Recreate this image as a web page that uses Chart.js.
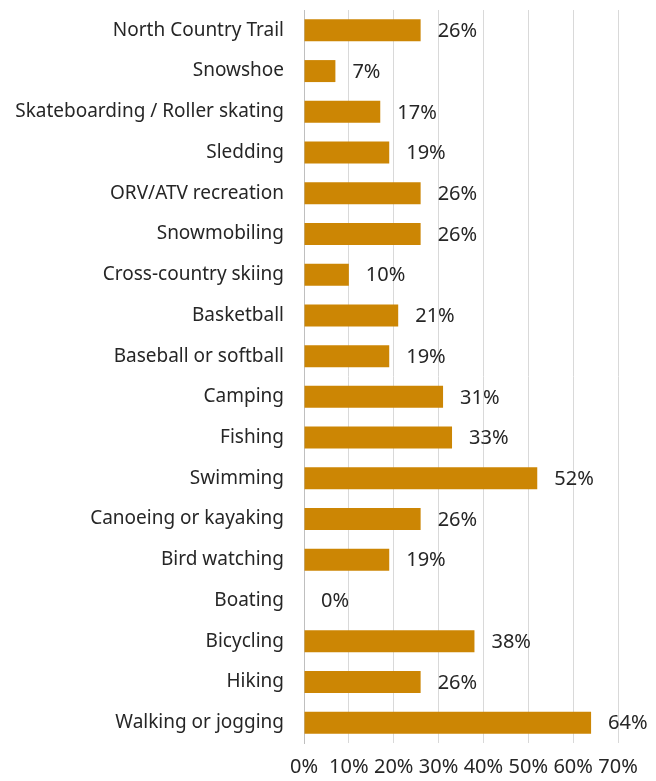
<!DOCTYPE html>
<html>
<head>
<meta charset="utf-8">
<script src="https://cdn.jsdelivr.net/npm/chart.js@4"></script>
<style>
  html, body { margin: 0; padding: 0; background: #fff; }
  #wrap { width: 656px; height: 781px; position: relative; }
</style>
</head>
<body>
<div id="wrap"><canvas id="chart"></canvas></div>
<script>
// activity categories, top to bottom
const categories = [
    'North Country Trail', 'Snowshoe', 'Skateboarding / Roller skating', 'Sledding',
    'ORV/ATV recreation', 'Snowmobiling', 'Cross-country skiing', 'Basketball',
    'Baseball or softball', 'Camping', 'Fishing', 'Swimming', 'Canoeing or kayaking',
    'Bird watching', 'Boating', 'Bicycling', 'Hiking', 'Walking or jogging'
];
// percent of respondents
const percents = [26, 7, 17, 19, 26, 26, 10, 21, 19, 31, 33, 52, 26, 19, 0, 38, 26, 64];
const tickValues = [0, 10, 20, 30, 40, 50, 60, 70];

const barColor = '#CC8604';
const textColor = '#262626';
const fontFamily = '"Noto Sans", "Open Sans", sans-serif';

// draw the value label right of each bar
const valueLabels = {
    id: 'valueLabels',
    afterDatasetsDraw(chart) {
        const ctx = chart.ctx;
        const meta = chart.getDatasetMeta(0);
        ctx.save();
        ctx.font = '20px ' + fontFamily;
        ctx.fillStyle = textColor;
        ctx.textAlign = 'left';
        ctx.textBaseline = 'middle';
        meta.data.forEach((bar, i) => {
            ctx.fillText(percents[i] + '%', bar.x + 17, bar.y + 1);
        });
        ctx.restore();
    }
};

new Chart(document.getElementById('chart'), {
    type: 'bar',
    data: {
        labels: categories,
        datasets: [{
            data: percents,
            backgroundColor: barColor,
            borderWidth: 0,
            barPercentage: 0.54,
            categoryPercentage: 1.0
        }]
    },
    options: {
        indexAxis: 'y',
        responsive: true,
        maintainAspectRatio: false,
        animation: false,
        layout: { padding: { top: 10, right: 38, bottom: 0, left: 0 } },
        plugins: {
            legend: { display: false },
            tooltip: { enabled: false }
        },
        scales: {
            x: {
                min: 0,
                max: 70,
                afterBuildTicks: (scale) => {
                    scale.ticks = tickValues.map(v => ({ value: v }));
                },
                afterFit: (scale) => { scale.height = 38; },
                grid: { color: '#D9D9D9', lineWidth: 1, drawTicks: false },
                border: { display: false },
                ticks: {
                    color: textColor,
                    font: { family: fontFamily, size: 20 },
                    padding: 12,
                    maxRotation: 0,
                    autoSkip: false,
                    callback: (v) => v + '%'
                }
            },
            y: {
                afterFit: (scale) => {
                    scale.width = 304;
                    scale.paddingTop = 0;
                    scale.paddingBottom = 0;
                },
                grid: { display: false, drawTicks: false },
                border: { display: true, color: '#BFBFBF' },
                ticks: {
                    color: textColor,
                    font: { family: fontFamily, size: 19 },
                    padding: 20,
                    autoSkip: false
                }
            }
        }
    },
    plugins: [valueLabels]
});
</script>
</body>
</html>
